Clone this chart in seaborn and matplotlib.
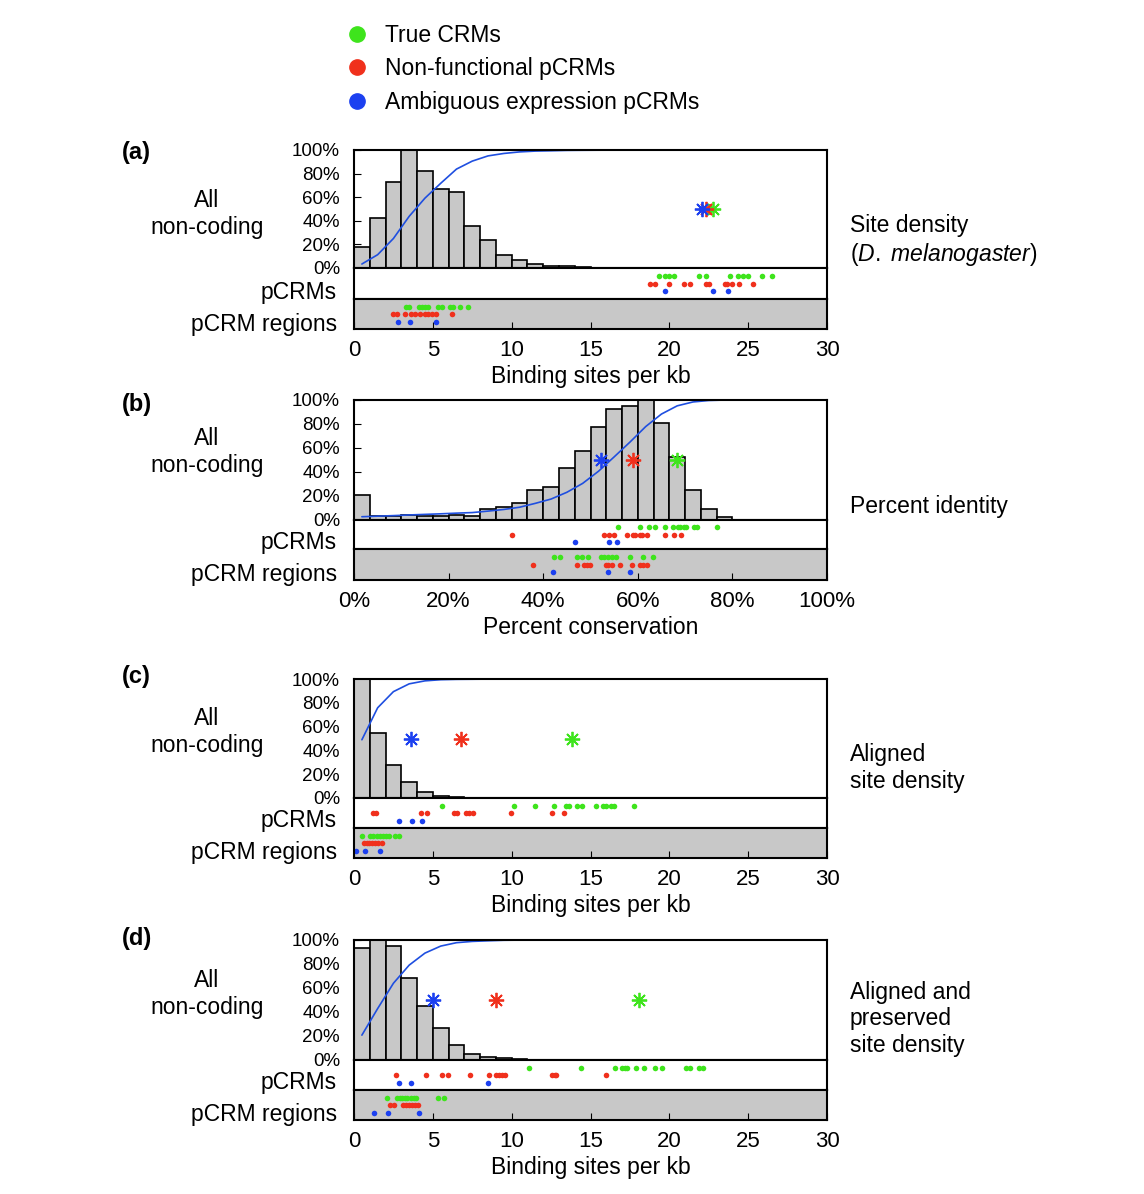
import numpy as np
import pandas as pd
import matplotlib.pyplot as plt
from matplotlib.lines import Line2D
import seaborn as sns

sns.set_style("white")
plt.rcParams["font.family"] = ["Liberation Sans", "DejaVu Sans"]
plt.rcParams["mathtext.fontset"] = "custom"
plt.rcParams["mathtext.rm"] = "Liberation Sans"
plt.rcParams["mathtext.it"] = "Liberation Sans:italic"
for key in ("text.color", "axes.labelcolor", "xtick.color", "ytick.color"):
    plt.rcParams[key] = "black"

# === Data ===
GROUPS = ["True CRMs", "Non-functional pCRMs", "Ambiguous expression pCRMs"]
COLORS = ["#3ee41c", "#f0301c", "#1c40f0"]

# (a) site density, 30 bins of 1 site/kb, scaled to tallest bin
A_HIST = [0.18, 0.42, 0.73, 1.00, 0.82, 0.67, 0.64, 0.36, 0.235, 0.11,
          0.07, 0.037, 0.014, 0.017, 0.006, 0.004, 0.003, 0.002, 0.002, 0.001,
          0, 0, 0, 0, 0, 0, 0, 0, 0, 0]
A_STARS = [22.8, 22.3, 22.1]  # true, non-functional, ambiguous
A_PCRM_TRUE = [19.35, 19.7, 19.95, 20.3, 21.9, 22.35, 23.85, 24.35, 24.7, 25.0, 25.9, 26.5]
A_PCRM_NONF = [18.8, 19.1, 20.0, 20.9, 21.3, 22.3, 22.5, 23.5, 23.65, 24.0, 24.45, 25.3]
A_PCRM_AMBI = [19.7, 22.75, 23.7]
A_REG_TRUE = [3.3, 3.52, 4.14, 4.3, 4.52, 4.69, 5.35, 5.55, 6.06, 6.25, 6.7, 7.24]
A_REG_NONF = [2.45, 2.71, 3.25, 3.59, 3.89, 4.2, 4.52, 4.71, 4.93, 5.2, 6.23]
A_REG_AMBI = [2.77, 3.53, 5.18]

# (b) percent identity, 30 bins over 0-100%
B_HIST = [0.21, 0.037, 0.034, 0.043, 0.037, 0.037, 0.043, 0.037, 0.094, 0.106,
          0.143, 0.25, 0.277, 0.434, 0.571, 0.777, 0.929, 0.949, 1.0, 0.806,
          0.529, 0.249, 0.094, 0.029, 0.003, 0, 0, 0, 0, 0]
B_STARS = [68.2, 58.9, 52.3]
B_PCRM_TRUE = [55.9, 60.5, 62.3, 63.7, 65.8, 67.4, 68.4, 69.0, 69.8, 70.2, 71.9, 72.5, 76.8]
B_PCRM_NONF = [33.5, 52.8, 53.9, 55.0, 57.8, 59.0, 59.4, 60.4, 60.9, 62.0, 65.8, 67.6, 69.1]
B_PCRM_AMBI = [46.7, 54.0, 55.6]
B_REG_TRUE = [42.3, 43.5, 47.1, 48.2, 49.4, 52.2, 52.9, 53.8, 54.5, 55.3, 58.3, 61.2, 63.3]
B_REG_NONF = [37.8, 47.2, 48.7, 49.3, 49.9, 53.2, 53.8, 54.5, 56.2, 58.8, 60.5, 61.2, 62.0]
B_REG_AMBI = [42.0, 53.7, 58.4]

# (c) aligned site density
C_HIST = [1.0, 0.549, 0.277, 0.134, 0.051, 0.02, 0.006, 0.002, 0.002, 0.001,
          0.001, 0, 0, 0, 0, 0, 0, 0, 0, 0, 0, 0, 0, 0, 0, 0, 0, 0, 0, 0]
C_STARS = [13.8, 6.8, 3.6]
C_PCRM_TRUE = [5.56, 10.13, 11.48, 12.7, 13.44, 13.61, 14.12, 14.44, 15.36, 15.81, 15.98, 16.3, 16.49, 17.74]
C_PCRM_NONF = [1.18, 1.37, 4.23, 4.63, 6.34, 6.55, 7.1, 7.31, 7.53, 9.98, 12.56, 13.34]
C_PCRM_AMBI = [2.87, 3.68, 4.29]
C_REG_TRUE = [0.49, 1.01, 1.22, 1.44, 1.65, 1.86, 2.03, 2.24, 2.6, 2.87]
C_REG_NONF = [0.63, 0.81, 0.97, 1.14, 1.31, 1.52, 1.78]
C_REG_AMBI = [0.1, 0.67, 1.63]

# (d) aligned and preserved site density
D_HIST = [0.935, 1.0, 0.952, 0.682, 0.452, 0.264, 0.128, 0.048, 0.023, 0.02,
          0.006, 0.003, 0.001, 0, 0, 0, 0, 0, 0, 0, 0, 0, 0, 0, 0, 0, 0, 0, 0, 0]
D_STARS = [18.1, 9.0, 5.0]
D_PCRM_TRUE = [11.08, 14.41, 16.53, 17.01, 17.17, 17.33, 17.86, 18.37, 19.06, 19.55, 21.07, 21.29, 21.86, 22.13]
D_PCRM_NONF = [2.68, 4.57, 5.56, 5.94, 7.34, 8.54, 8.98, 9.18, 9.38, 9.59, 12.56, 12.73, 12.83, 15.96]
D_PCRM_AMBI = [2.83, 3.64, 8.52]
D_REG_TRUE = [2.11, 2.73, 2.9, 3.06, 3.23, 3.38, 3.64, 3.8, 3.95, 5.33, 5.71]
D_REG_NONF = [2.26, 2.54, 3.11, 3.28, 3.47, 3.68, 3.89, 4.06]
D_REG_AMBI = [1.25, 2.16, 4.1]

SITE_TICKS = [0, 5, 10, 15, 20, 25, 30]
PCT_TICKS = [0, 20, 40, 60, 80, 100]

W, H = 1144, 1194
fig = plt.figure(figsize=(W / 100, H / 100), dpi=100)

GRAY = "#c8c8c8"
FS = 16.5


def rect(top, bottom, left=354, right=827):
    return [left / W, 1 - bottom / H, (right - left) / W, (bottom - top) / H]


def style_box(ax):
    for s in ax.spines.values():
        s.set_visible(True)
        s.set_linewidth(1.5)
        s.set_color("black")


def draw_panel(rows, hist, xmax, stars, pcrm, regs, xticks, xticklabels, xlabel):
    top, s1, s2, bottom = rows
    edges = np.linspace(0, xmax, len(hist) + 1)
    centers = (edges[:-1] + edges[1:]) / 2
    heights = np.array(hist, dtype=float)
    df = pd.DataFrame({"x": centers, "w": heights,
                       "cdf": np.cumsum(heights) / heights.sum()})

    ax_h = fig.add_axes(rect(top, s1))
    ax_p = fig.add_axes(rect(s1, s2), sharex=ax_h)
    ax_r = fig.add_axes(rect(s2, bottom), sharex=ax_h)

    # histogram of all non-coding sequence + cumulative curve
    sns.histplot(data=df, x="x", weights="w", bins=list(edges), color=GRAY,
                 edgecolor="black", linewidth=1.2, alpha=1, ax=ax_h)
    sns.lineplot(data=df, x="x", y="cdf", color="#1f4fe0", linewidth=1.2, ax=ax_h)
    for x, c in zip(stars, COLORS):
        ax_h.plot(x, 0.5, marker=(8, 2, 0), ms=11, mew=1.3, color=c, ls="")
    ax_h.set_xlim(0, xmax)
    ax_h.set_ylim(0, 1)
    ax_h.set_yticks(np.linspace(0, 1, 6))
    ax_h.set_yticklabels(["0%", "20%", "40%", "60%", "80%", "100%"])
    ax_h.set_ylabel("")
    ax_h.tick_params(axis="y", left=True, direction="in", length=5, pad=10, labelsize=13.5)
    ax_h.tick_params(axis="x", bottom=False, labelbottom=False)

    # dot strips: pCRMs and pCRM regions
    for ax, groups in ((ax_p, pcrm), (ax_r, regs)):
        for vals, c, yrow in zip(groups, COLORS, (0.75, 0.5, 0.25)):
            sns.scatterplot(x=vals, y=[yrow] * len(vals), color=c, s=16,
                            linewidth=0, ax=ax)
        ax.set_ylim(0, 1)
        ax.set_yticks([])
        ax.set_ylabel("")
    ax_r.set_facecolor(GRAY)
    ax_p.tick_params(axis="x", bottom=False, labelbottom=False)
    ax_r.set_xticks(xticks)
    ax_r.set_xticklabels(xticklabels)
    ax_r.tick_params(axis="x", bottom=True, direction="in", length=5, pad=8, labelsize=16)
    ax_r.set_xlabel(xlabel, fontsize=FS, labelpad=3)
    for ax in (ax_h, ax_p, ax_r):
        style_box(ax)
    return ax_h


def side_labels(tag, top, mid_all, y_pcrm, y_reg, right_text, y_right):
    fig.text(122 / W, 1 - top / H, tag, fontsize=17, fontweight="bold", va="center", ha="left")
    fig.text(207 / W, 1 - mid_all / H, "All\nnon-coding", fontsize=FS, ha="center",
             va="center", multialignment="center", linespacing=1.25)
    fig.text(337 / W, 1 - y_pcrm / H, "pCRMs", fontsize=FS, ha="right", va="center")
    fig.text(337 / W, 1 - y_reg / H, "pCRM regions", fontsize=FS, ha="right", va="center")
    fig.text(850 / W, 1 - y_right / H, right_text, fontsize=FS, ha="left", va="center",
             linespacing=1.2)


draw_panel((150, 268, 299, 329), A_HIST, 30, A_STARS,
           (A_PCRM_TRUE, A_PCRM_NONF, A_PCRM_AMBI), (A_REG_TRUE, A_REG_NONF, A_REG_AMBI),
           SITE_TICKS, [str(t) for t in SITE_TICKS], "Binding sites per kb")
draw_panel((400, 520, 549, 580), B_HIST, 100, B_STARS,
           (B_PCRM_TRUE, B_PCRM_NONF, B_PCRM_AMBI), (B_REG_TRUE, B_REG_NONF, B_REG_AMBI),
           PCT_TICKS, [f"{t}%" for t in PCT_TICKS], "Percent conservation")
draw_panel((679, 798, 828, 858), C_HIST, 30, C_STARS,
           (C_PCRM_TRUE, C_PCRM_NONF, C_PCRM_AMBI), (C_REG_TRUE, C_REG_NONF, C_REG_AMBI),
           SITE_TICKS, [str(t) for t in SITE_TICKS], "Binding sites per kb")
draw_panel((940, 1060, 1090, 1120), D_HIST, 30, D_STARS,
           (D_PCRM_TRUE, D_PCRM_NONF, D_PCRM_AMBI), (D_REG_TRUE, D_REG_NONF, D_REG_AMBI),
           SITE_TICKS, [str(t) for t in SITE_TICKS], "Binding sites per kb")

side_labels("(a)", 153, 214, 293, 324,
            "Site density\n($\\mathit{D.}$ $\\mathit{melanogaster}$)", 241)
side_labels("(b)", 404, 452, 542, 575, "Percent identity", 506)
side_labels("(c)", 677, 732, 820, 853, "Aligned\nsite density", 768)
side_labels("(d)", 938, 994, 1083, 1115, "Aligned and\npreserved\nsite density", 1019)

handles = [Line2D([], [], marker="o", ls="", color=c, markersize=11) for c in COLORS]
fig.legend(handles, GROUPS, loc="upper left", bbox_to_anchor=(346 / W, 1 - 24 / H),
           frameon=False, fontsize=FS, handlelength=1.0, handletextpad=0.7,
           labelspacing=0.45, borderpad=0, borderaxespad=0)

fig.savefig("out.png", dpi=100)
